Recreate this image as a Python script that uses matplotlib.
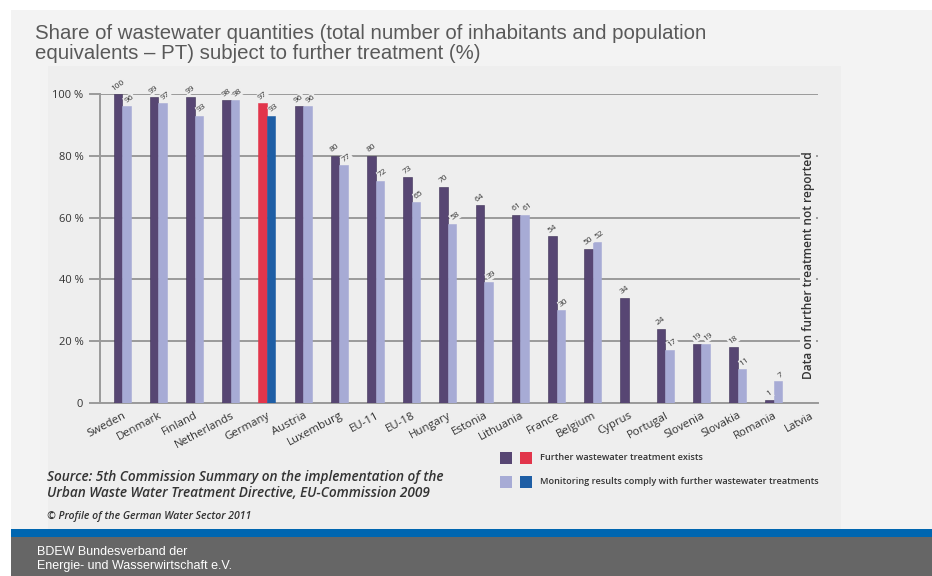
import matplotlib.pyplot as plt
from matplotlib.patches import Rectangle
import numpy as np

# data
countries = ['Sweden', 'Denmark', 'Finland', 'Netherlands', 'Germany', 'Austria',
             'Luxemburg', 'EU-11', 'EU-18', 'Hungary', 'Estonia', 'Lithuania',
             'France', 'Belgium', 'Cyprus', 'Portugal', 'Slovenia', 'Slovakia',
             'Romania', 'Latvia']
treatment_exists = [100, 99, 99, 98, 97, 96, 80, 80, 73, 70, 64, 61, 54, 50, 34,
                    24, 19, 18, 1, None]
monitoring_ok = [96, 97, 93, 98, 93, 96, 77, 72, 65, 58, 39, 61, 30, 52, None,
                 17, 19, 11, 7, None]
y_ticks = [0, 20, 40, 60, 80, 100]
y_tick_labels = ['0', '20 %', '40 %', '60 %', '80 %', '100 %']

DARK = '#574673'
LIGHT = '#a7abd5'
RED = '#e2354b'
BLUE = '#1e5ea5'
PANEL = '#eeeeee'
TXT = '#333333'
FONT = ['Open Sans', 'DejaVu Sans']

W, H = 932, 576
fig = plt.figure(figsize=(W / 100, H / 100), dpi=100, facecolor='white')


def box(x0, y0, x1, y1, color, z=-10):
    # rectangle in pixel coordinates (top-left origin)
    fig.patches.append(Rectangle((x0 / W, 1 - y1 / H), (x1 - x0) / W, (y1 - y0) / H,
                                 transform=fig.transFigure, facecolor=color,
                                 edgecolor='none', zorder=z))


# slide background
box(11, 10, 932, 530, '#f3f3f3')
box(48, 66, 841, 530, PANEL)
box(11, 529, 932, 537, '#0066b0')
box(11, 537, 932, 576, '#666666')

fig.text(35 / W, 1 - 24 / H,
         'Share of wastewater quantities (total number of inhabitants and population\n'
         'equivalents \u2013 PT) subject to further treatment (%)',
         family=['Liberation Sans', 'DejaVu Sans'], fontsize=14.7, color='#595959',
         va='top', ha='left', linespacing=1.08)

ax = fig.add_axes([100 / W, 1 - 403 / H, 718 / W, 309 / H])
ax.set_facecolor('none')

x = np.arange(len(countries))
bw = 0.235
for i, name in enumerate(countries):
    c1, c2 = (RED, BLUE) if name == 'Germany' else (DARK, LIGHT)
    v1, v2 = treatment_exists[i], monitoring_ok[i]
    if v1 is not None:
        ax.bar(x[i] - bw / 2, v1, bw, color=c1, edgecolor='#3d3055' if c1 == DARK else c1,
               linewidth=0.4, zorder=3)
        ax.text(x[i] - bw / 2, v1 + 0.6, str(v1), rotation=35, fontsize=6, color=TXT,
                ha='center', va='bottom', family=FONT, zorder=4,
                bbox=dict(facecolor=PANEL, edgecolor='none', pad=0.6))
    if v2 is not None:
        ax.bar(x[i] + bw / 2, v2, bw, color=c2, edgecolor=c2, linewidth=0.4, zorder=3)
        ax.text(x[i] + bw / 2 + 0.08, v2 + 0.6, str(v2), rotation=35, fontsize=6,
                color=TXT, ha='center', va='bottom', family=FONT, zorder=4,
                bbox=dict(facecolor=PANEL, edgecolor='none', pad=0.6))

ax.set_xlim(-0.61, 19.22)
ax.set_ylim(0, 100)
ax.set_yticks(y_ticks)
ax.set_yticklabels(y_tick_labels, family=FONT, fontsize=8, color=TXT)
ax.yaxis.grid(True, color='#9a9a9a', linewidth=1.4, zorder=1)
ax.tick_params(axis='y', length=8, width=1.4, color='#9a9a9a', pad=4)
ax.set_xticks(x)
ax.set_xticklabels(countries, rotation=28, ha='right', rotation_mode='anchor',
                   family=FONT, fontsize=8.2, color=TXT)
ax.tick_params(axis='x', length=0, pad=5)
ax.spines['top'].set_visible(False)
ax.spines['right'].set_visible(False)
for s in ('left', 'bottom'):
    ax.spines[s].set_color('#9a9a9a')
    ax.spines[s].set_linewidth(1.4)
ax.set_axisbelow(True)

ax.text(18.95, 44.5, 'Data on further treatment not reported', rotation=90,
        fontsize=8.6, color=TXT, ha='center', va='center', family=FONT,
        fontweight='semibold', zorder=4,
        bbox=dict(facecolor=PANEL, edgecolor='none', pad=1.0))

# source notes
src_font = ['Open Sans', 'DejaVu Sans']
fig.text(47 / W, 1 - 485 / H,
         'Source: 5th Commission Summary on the implementation of the\n'
         'Urban Waste Water Treatment Directive, EU-Commission 2009',
         family=src_font, style='italic', fontweight='semibold', fontsize=9.8,
         color=TXT, va='center', ha='left', linespacing=1.15)
fig.text(47 / W, 1 - 517 / H, '\u00a9 Profile of the German Water Sector 2011',
         family=src_font, style='italic', fontweight='semibold', fontsize=7.6,
         color=TXT, va='center', ha='left')

# legend
legend_rows = [((DARK, RED), 'Further wastewater treatment exists', 458),
               ((LIGHT, BLUE), 'Monitoring results comply with further wastewater treatments', 482)]
for (ca, cb), label, yy in legend_rows:
    box(500, yy - 6, 512, yy + 6, ca, z=2)
    box(520, yy - 6, 532, yy + 6, cb, z=2)
    fig.text(540 / W, 1 - yy / H, label, family=FONT, fontweight='semibold',
             fontsize=6.6, color=TXT, va='center', ha='left')

fig.text(37 / W, 1 - 559 / H, 'BDEW Bundesverband der\nEnergie- und Wasserwirtschaft e.V.',
         family=['Liberation Sans Narrow', 'Liberation Sans', 'DejaVu Sans'],
         fontsize=9, color='white', va='center', ha='left', linespacing=1.2)

fig.savefig('out.png', dpi=100, facecolor=fig.get_facecolor())
